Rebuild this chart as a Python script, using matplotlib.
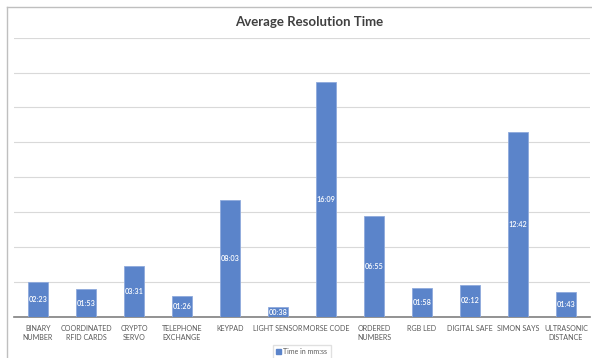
import matplotlib.pyplot as plt
from matplotlib.lines import Line2D
from matplotlib.patches import Patch

# modules and their average resolution time
categories = ['BINARY\nNUMBER', 'COORDINATED\nRFID CARDS', 'CRYPTO\nSERVO', 'TELEPHONE\nEXCHANGE',
              'KEYPAD', 'LIGHT SENSOR', 'MORSE CODE', 'ORDERED\nNUMBERS', 'RGB LED',
              'DIGITAL SAFE', 'SIMON SAYS', 'ULTRASONIC\nDISTANCE']
times = ['02:23', '01:53', '03:31', '01:26', '08:03', '00:38', '16:09', '06:55',
         '01:58', '02:12', '12:42', '01:43']
seconds = [int(t[:2]) * 60 + int(t[3:]) for t in times]

plt.rcParams['font.family'] = ['Lato', 'DejaVu Sans']

fig = plt.figure(figsize=(5.92, 3.58), dpi=100)
ax = fig.add_axes([0.0236, 0.1154, 0.9730, 0.7793])

x = range(len(categories))
bars = ax.bar(x, seconds, width=0.4, color='#5B84CA', edgecolor='#8FAADC', linewidth=0.6, zorder=3,
              label='Time in mm:ss')

for b, t in zip(bars, times):
    ax.text(b.get_x() + b.get_width() / 2, b.get_height() / 2, t, ha='center', va='center',
            color='white', fontsize=5.2, fontweight='semibold', zorder=4)

ax.set_xlim(-0.5, len(categories) - 0.5)
ax.set_ylim(0, 1152)
ax.set_yticks(range(0, 1153, 144))
ax.yaxis.grid(True, color='#D9D9D9', linewidth=0.8, zorder=0)
ax.tick_params(axis='y', left=False, labelleft=False)
ax.set_xticks(list(x))
ax.set_xticklabels(categories, fontsize=5.1, color='#595959', linespacing=1.35)
ax.tick_params(axis='x', length=0, pad=6)
for s in ['top', 'right', 'left']:
    ax.spines[s].set_visible(False)
ax.spines['bottom'].set_color('#808080')
ax.spines['bottom'].set_linewidth(1.2)

fig.text(0.523, 0.939, 'Average Resolution Time', ha='center', va='center',
         fontsize=9.5, fontweight='bold', color='#404040')

fig.legend(handles=[Patch(color='#5B84CA', label='Time in mm:ss')], loc='center',
           bbox_to_anchor=(0.51, 0.018), fontsize=5, frameon=True, edgecolor='#D9D9D9',
           fancybox=False, handlelength=0.6, handleheight=0.6, handletextpad=0.4,
           borderpad=0.5, labelcolor='#595959')

# chart frame
fig.add_artist(Line2D([0.012, 0.012], [0, 0.98], color='#BFBFBF', linewidth=1))
fig.add_artist(Line2D([0.012, 1], [0.98, 0.98], color='#BFBFBF', linewidth=1))

fig.savefig('out.png', dpi=100)
